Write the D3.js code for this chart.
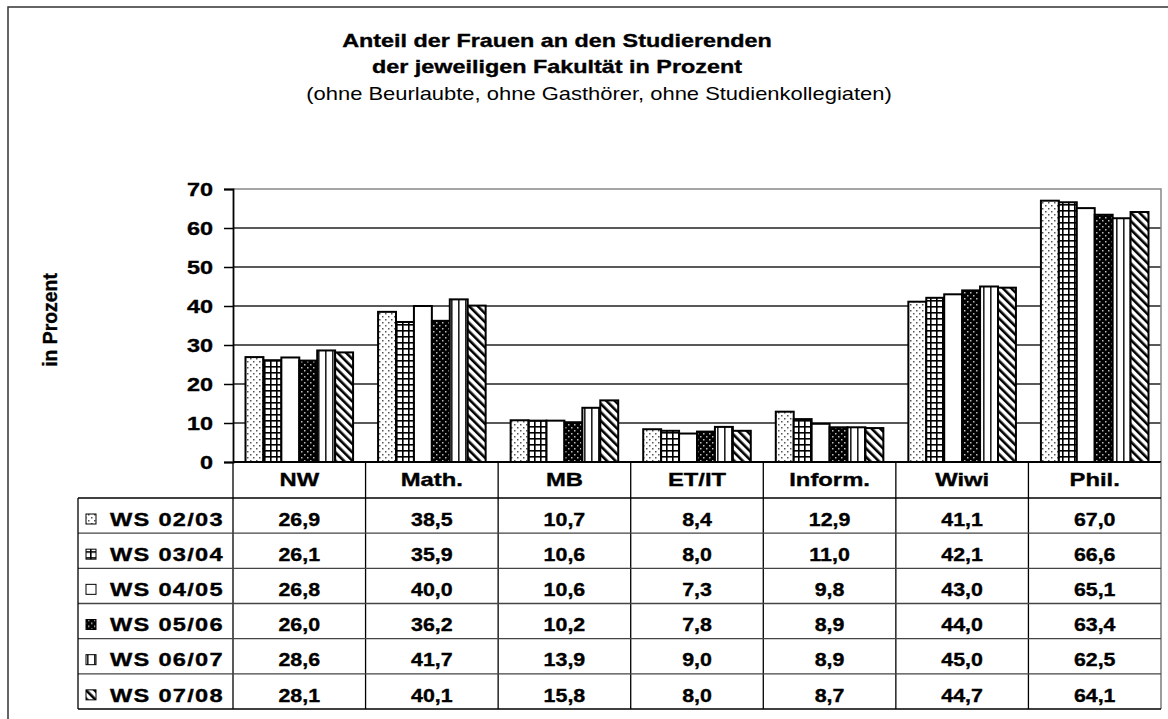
<!DOCTYPE html>
<html>
<head>
<meta charset="utf-8">
<script src="https://d3js.org/d3.v7.min.js"></script>
<style>
  body { margin: 0; background: #fff; }
  svg { display: block; font-family: "Liberation Sans", Arial, sans-serif; }
  text.b { font-weight: bold; stroke: #000; stroke-width: 0.35px; }
</style>
</head>
<body>
<svg width="1168" height="719"></svg>
<script>
// data
var categories = ["NW", "Math.", "MB", "ET/IT", "Inform.", "Wiwi", "Phil."];
var semesters = ["WS 02/03", "WS 03/04", "WS 04/05", "WS 05/06", "WS 06/07", "WS 07/08"];
var ws0203 = [26.9, 38.5, 10.7, 8.4, 12.9, 41.1, 67.0];
var ws0304 = [26.1, 35.9, 10.6, 8.0, 11.0, 42.1, 66.6];
var ws0405 = [26.8, 40.0, 10.6, 7.3, 9.8, 43.0, 65.1];
var ws0506 = [26.0, 36.2, 10.2, 7.8, 8.9, 44.0, 63.4];
var ws0607 = [28.6, 41.7, 13.9, 9.0, 8.9, 45.0, 62.5];
var ws0708 = [28.1, 40.1, 15.8, 8.0, 8.7, 44.7, 64.1];
var yTicks = [0, 10, 20, 30, 40, 50, 60, 70];

var values = [ws0203, ws0304, ws0405, ws0506, ws0607, ws0708];
var fmt = function (v) { return d3.format(".1f")(v).replace(".", ","); };

var svg = d3.select("svg");
var defs = svg.append("defs");

// text stretched sideways like the original export
function label(sel, px, py, sx) {
  return sel.attr("transform", "translate(" + px + "," + py + ") scale(" + sx + ",1)");
}

// fill patterns, one per semester
function pat(id, w, h) {
  return defs.append("pattern").attr("id", id)
    .attr("patternUnits", "userSpaceOnUse").attr("width", w).attr("height", h);
}
var p1 = pat("p1", 6, 6);
p1.append("rect").attr("width", 6).attr("height", 6).attr("fill", "#fff");
p1.append("rect").attr("x", 1).attr("y", 1).attr("width", 1.5).attr("height", 1.5).attr("fill", "#555");
p1.append("rect").attr("x", 4).attr("y", 4).attr("width", 1.5).attr("height", 1.5).attr("fill", "#555");

var p2 = pat("p2", 6, 6);
p2.append("rect").attr("width", 6).attr("height", 6).attr("fill", "#fff");
p2.append("rect").attr("x", 0).attr("y", 0).attr("width", 1.6).attr("height", 6).attr("fill", "#000");
p2.append("rect").attr("x", 0).attr("y", 0).attr("width", 6).attr("height", 1.6).attr("fill", "#000");

var p4 = pat("p4", 6, 6);
p4.append("rect").attr("width", 6).attr("height", 6).attr("fill", "#000");
p4.append("rect").attr("x", 1).attr("y", 1).attr("width", 1.5).attr("height", 1.5).attr("fill", "#bbb");
p4.append("rect").attr("x", 4).attr("y", 4).attr("width", 1.5).attr("height", 1.5).attr("fill", "#bbb");

var p5 = pat("p5", 7, 7);
p5.append("rect").attr("width", 7).attr("height", 7).attr("fill", "#fff");
p5.append("rect").attr("x", 3).attr("y", 0).attr("width", 1.6).attr("height", 7).attr("fill", "#222");

var p6 = pat("p6", 6, 6).attr("patternTransform", "rotate(-45)");
p6.append("rect").attr("width", 6).attr("height", 6).attr("fill", "#fff");
p6.append("rect").attr("x", 0).attr("y", 0).attr("width", 2.6).attr("height", 6).attr("fill", "#000");

var fills = ["url(#p1)", "url(#p2)", "#fff", "url(#p4)", "url(#p5)", "url(#p6)"];

// outer frame
svg.append("rect").attr("x", 8).attr("y", 7).attr("width", 1180).attr("height", 730)
  .attr("fill", "none").attr("stroke", "#333").attr("stroke-width", 1.5);

// titles
label(svg.append("text"), 557, 47, 1.257).attr("class", "b").attr("text-anchor", "middle")
  .attr("font-size", 18.6)
  .text("Anteil der Frauen an den Studierenden");
label(svg.append("text"), 557, 73, 1.257).attr("class", "b").attr("text-anchor", "middle")
  .attr("font-size", 18.6)
  .text("der jeweiligen Fakultät in Prozent");
label(svg.append("text"), 599, 100, 1.22).attr("text-anchor", "middle")
  .attr("font-size", 18)
  .text("(ohne Beurlaubte, ohne Gasthörer, ohne Studienkollegiaten)");

// scales
var plotL = 233, plotR = 1161, plotT = 189, plotB = 462;
var x = d3.scaleBand().domain(categories).range([plotL, plotR]);
var xIn = d3.scaleBand().domain(semesters).range([12.5, x.bandwidth() - 12.5]);
var y = d3.scaleLinear().domain([0, 70]).range([plotB, plotT]);

// gridlines
svg.append("g").selectAll("line").data(yTicks.slice(1, -1)).join("line")
  .attr("x1", plotL).attr("x2", plotR)
  .attr("y1", function (d) { return y(d); }).attr("y2", function (d) { return y(d); })
  .attr("stroke", "#222").attr("stroke-width", 1.3);

// plot frame top/right
svg.append("path").attr("d", "M" + plotL + "," + plotT + "H" + plotR + "V" + plotB)
  .attr("fill", "none").attr("stroke", "#888").attr("stroke-width", 1.5);

// bars
var groups = svg.append("g").selectAll("g").data(semesters).join("g")
  .attr("fill", function (d, i) { return fills[i]; });
groups.selectAll("rect")
  .data(function (s, si) { return values[si].map(function (v, ci) { return {s: s, c: categories[ci], v: v}; }); })
  .join("rect")
  .attr("x", function (d) { return x(d.c) + xIn(d.s); })
  .attr("width", xIn.bandwidth())
  .attr("y", function (d) { return y(d.v); })
  .attr("height", function (d) { return y(0) - y(d.v); })
  .attr("stroke", "#000").attr("stroke-width", 2);

// y axis
var yAxis = svg.append("g").attr("transform", "translate(" + plotL + ",0)")
  .call(d3.axisLeft(y).tickValues(yTicks).tickSize(9).tickFormat(""));
yAxis.select(".domain").attr("stroke", "#000").attr("stroke-width", 1.8);
yAxis.selectAll(".tick line").attr("stroke", "#000").attr("stroke-width", 1.5);
svg.append("g").selectAll("text").data(yTicks).join("text")
  .each(function (d) { label(d3.select(this), 213, y(d) + 6.5, 1.26); })
  .attr("class", "b").attr("text-anchor", "end").attr("font-size", 18.6)
  .text(function (d) { return d; });

svg.append("text").attr("transform", "translate(57,320) rotate(-90)")
  .attr("class", "b").attr("text-anchor", "middle").attr("font-size", 19.4)
  .text("in Prozent");

// data table
var tblL = 78, headB = 498, rowH = 35.17;
var tbl = svg.append("g").attr("stroke", "#000").attr("stroke-width", 1.3);
tbl.append("line").attr("x1", plotL).attr("x2", plotR).attr("y1", plotB).attr("y2", plotB).attr("stroke-width", 1.8);
tbl.selectAll(".hv").data(categories.concat(["end"])).join("line")
  .attr("x1", function (d) { return d === "end" ? plotR : x(d); })
  .attr("x2", function (d) { return d === "end" ? plotR : x(d); })
  .attr("y1", plotB).attr("y2", headB + rowH * semesters.length)
  .attr("stroke", function (d) { return d === "end" ? "#666" : "#000"; });
tbl.selectAll(".hr").data(d3.range(semesters.length + 1)).join("line")
  .attr("x1", tblL).attr("x2", plotR)
  .attr("y1", function (d) { return headB + d * rowH; }).attr("y2", function (d) { return headB + d * rowH; })
  .attr("stroke", function (d, i) { return i === 0 || i === semesters.length ? "#000" : "#444"; });
tbl.append("line").attr("x1", tblL).attr("x2", tblL).attr("y1", headB).attr("y2", headB + rowH * semesters.length);

svg.append("g").selectAll("text").data(categories).join("text")
  .each(function (d) { label(d3.select(this), x(d) + x.bandwidth() / 2, plotB + 23.7, 1.28); })
  .attr("class", "b").attr("text-anchor", "middle").attr("font-size", 18.6)
  .text(function (d) { return d; });

var rows = svg.append("g").selectAll("g").data(semesters).join("g")
  .attr("transform", function (d, i) { return "translate(0," + (headB + i * rowH) + ")"; });
rows.append("rect").attr("x", 86).attr("y", 16).attr("width", 10).attr("height", 10)
  .attr("fill", function (d, i) { return fills[i]; }).attr("stroke", "#000").attr("stroke-width", 1);
rows.append("text")
  .each(function () { label(d3.select(this), 110, 27.7, 1.27); })
  .attr("class", "b").attr("font-size", 18.6).attr("letter-spacing", 1)
  .text(function (d) { return d; });
rows.selectAll(".v").data(function (s, si) { return values[si].map(function (v, ci) { return {c: categories[ci], v: v}; }); })
  .join("text")
  .each(function (d) { label(d3.select(this), x(d.c) + x.bandwidth() / 2, 27.7, 1.15); })
  .attr("class", "b").attr("text-anchor", "middle").attr("font-size", 18.6)
  .text(function (d) { return fmt(d.v); });
</script>
</body>
</html>
